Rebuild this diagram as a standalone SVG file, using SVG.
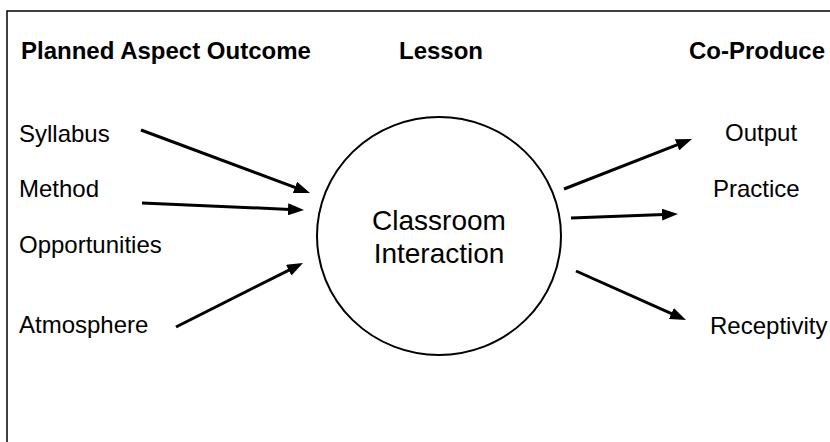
<svg xmlns="http://www.w3.org/2000/svg" width="830" height="442" viewBox="0 0 830 442">
  <style>
    .head { font-family: "Liberation Sans", Arial, sans-serif; font-weight: bold; font-size: 24px; fill: #000; }
    .lbl { font-family: "Liberation Sans", Arial, sans-serif; font-size: 24px; fill: #000; }
    .core { font-family: "Liberation Sans", Arial, sans-serif; font-size: 28px; fill: #000; text-anchor: middle; }
    .conn { stroke: #000; stroke-width: 3; fill: none; marker-end: url(#head); }
  </style>
  <defs>
    <marker id="head" markerUnits="userSpaceOnUse" markerWidth="16" markerHeight="12" refX="2" refY="6" orient="auto">
      <path d="M0,0 L16,6 L0,12 Z" fill="#000"/>
    </marker>
  </defs>
  <rect width="830" height="442" fill="#fff"/>

  <!-- frame: top and left edges only -->
  <path d="M830,11 H7 V442" fill="none" stroke="#000" stroke-width="1.5"/>

  <!-- column headings -->
  <g id="headings">
    <text class="head" x="21" y="59">Planned Aspect Outcome</text>
    <text class="head" x="399" y="59">Lesson</text>
    <text class="head" x="689" y="59">Co-Produce</text>
  </g>

  <!-- inputs -->
  <g id="syllabus"><text class="lbl" x="19" y="142">Syllabus</text></g>
  <g id="method"><text class="lbl" x="19" y="197">Method</text></g>
  <g id="opportunities"><text class="lbl" x="19" y="253">Opportunities</text></g>
  <g id="atmosphere"><text class="lbl" x="19" y="333">Atmosphere</text></g>

  <!-- central node -->
  <g id="classroom-interaction">
    <ellipse cx="439" cy="236" rx="122" ry="119" fill="#fff" stroke="#000" stroke-width="2"/>
    <text class="core" x="439" y="230">Classroom</text>
    <text class="core" x="439" y="263">Interaction</text>
  </g>

  <!-- outputs -->
  <g id="output"><text class="lbl" x="725" y="141">Output</text></g>
  <g id="practice"><text class="lbl" x="713" y="197">Practice</text></g>
  <g id="receptivity"><text class="lbl" x="710" y="334">Receptivity</text></g>

  <!-- connectors -->
  <g id="connectors">
    <line class="conn" x1="141" y1="130" x2="296.9" y2="188.1"/>
    <line class="conn" x1="142" y1="203" x2="290" y2="209.4"/>
    <line class="conn" x1="176" y1="327" x2="290.5" y2="269.3"/>
    <line class="conn" x1="564" y1="189" x2="678.9" y2="144.1"/>
    <line class="conn" x1="571" y1="218" x2="664" y2="214.5"/>
    <line class="conn" x1="576" y1="271" x2="673.2" y2="314.3"/>
  </g>
</svg>
